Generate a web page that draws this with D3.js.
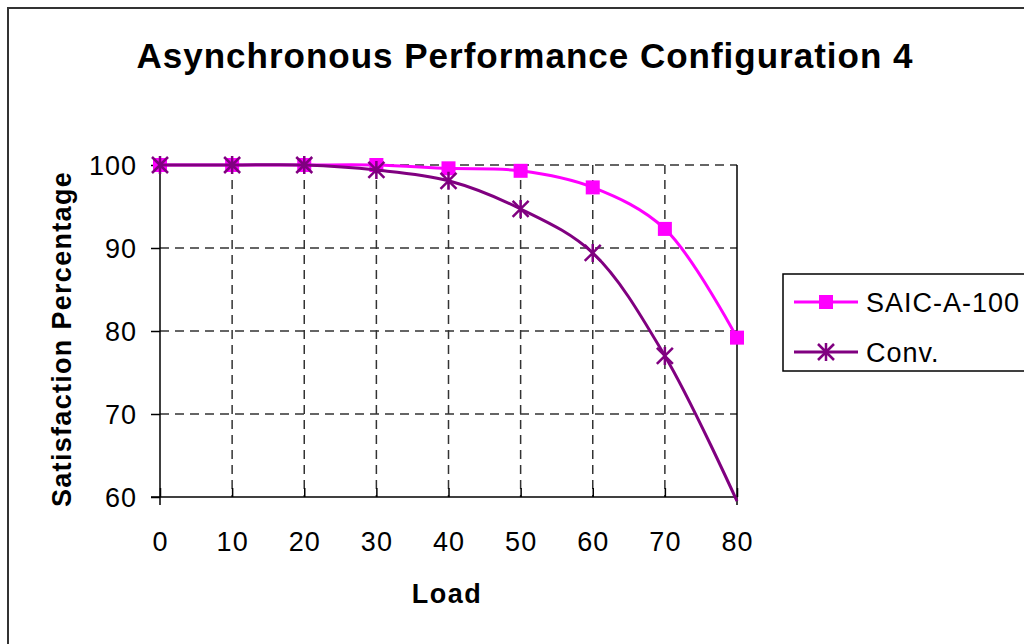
<!DOCTYPE html>
<html><head><meta charset="utf-8">
<script src="https://cdn.jsdelivr.net/npm/d3@7/dist/d3.min.js"></script>
<style>body{margin:0;background:#fff}svg{display:block;font-family:"Liberation Sans",Arial,sans-serif}</style>
</head><body><svg id="c" width="1024" height="644"></svg>
<script>
const loads = [0, 10, 20, 30, 40, 50, 60, 70, 80];
const saic = [100, 100, 100, 100, 99.6, 99.3, 97.3, 92.3, 79.2];
const conv = [100, 100, 100, 99.4, 98.1, 94.7, 89.4, 77.0, 59.5];
const xTicks = [0, 10, 20, 30, 40, 50, 60, 70, 80];
const yTicks = [60, 70, 80, 90, 100];
const seriesNames = ["SAIC-A-100", "Conv."];

const svg = d3.select("#c");
const L = 160, R = 737, T = 165, B = 497;
const x = d3.scaleLinear().domain([0, 80]).range([L, R]);
const y = d3.scaleLinear().domain([60, 100]).range([B, T]);

// outer border
svg.append("rect").attr("x", 8).attr("y", 8).attr("width", 1100).attr("height", 700)
  .attr("fill", "none").attr("stroke", "#333").attr("stroke-width", 2);

// title
svg.append("text").attr("x", 525).attr("y", 68).attr("text-anchor", "middle")
  .attr("font-size", 35).attr("font-weight", "bold").attr("letter-spacing", 1)
  .text("Asynchronous Performance Configuration 4");

// gridlines
const grid = svg.append("g").attr("stroke", "#333").attr("stroke-width", 1.5).attr("stroke-dasharray", "9,6");
yTicks.filter(v => v > 60).forEach(v => grid.append("line").attr("x1", L).attr("x2", R).attr("y1", y(v)).attr("y2", y(v)));
xTicks.filter(v => v > 0 && v < 80).forEach(v => grid.append("line").attr("x1", x(v)).attr("x2", x(v)).attr("y1", T).attr("y2", B));

// right border
svg.append("line").attr("x1", R).attr("x2", R).attr("y1", T).attr("y2", B + 8).attr("stroke", "#000").attr("stroke-width", 1.5);

// axes
const yAxis = d3.axisLeft(y).tickValues(yTicks).tickSize(9).tickPadding(14).tickFormat(d3.format("d"));
const gy = svg.append("g").attr("transform", `translate(${L},0)`).call(yAxis);
gy.select(".domain").attr("d", `M0,${T}V${B + 8}`).attr("stroke", "#000").attr("stroke-width", 1.5);
gy.selectAll(".tick line").attr("stroke", "#000").attr("stroke-width", 1.5);
gy.selectAll(".tick text").attr("font-size", 27).attr("letter-spacing", 1).attr("fill", "#000")
  .attr("font-family", "Liberation Sans, Arial, sans-serif").attr("dy", "0.36em");

const xAxis = d3.axisBottom(x).tickValues(xTicks).tickSize(-9).tickPadding(0).tickFormat(d3.format("d"));
const gx = svg.append("g").attr("transform", `translate(0,${B})`).call(xAxis);
gx.select(".domain").attr("d", `M${L - 9},0H${R}`).attr("stroke", "#000").attr("stroke-width", 1.5);
gx.selectAll(".tick line").attr("stroke", "#000").attr("stroke-width", 1.5);
gx.selectAll(".tick text").attr("font-size", 27).attr("letter-spacing", 1).attr("fill", "#000")
  .attr("font-family", "Liberation Sans, Arial, sans-serif").attr("y", 54).attr("dy", 0);

// axis titles
svg.append("text").attr("transform", "translate(71,339) rotate(-90)").attr("text-anchor", "middle")
  .attr("font-size", 27).attr("font-weight", "bold").attr("letter-spacing", 1.3).text("Satisfaction Percentage");
svg.append("text").attr("x", 447).attr("y", 603).attr("text-anchor", "middle")
  .attr("font-size", 27).attr("font-weight", "bold").attr("letter-spacing", 1.5).text("Load");

// clip
svg.append("clipPath").attr("id", "pc").append("rect").attr("x", L - 10).attr("y", T - 10).attr("width", R - L + 20).attr("height", B - T + 12);

const line = d3.line().x((d, i) => x(loads[i])).y(d => y(d)).curve(d3.curveCatmullRom.alpha(0.5));

function square(g, cx, cy, color) {
  g.append("rect").attr("x", cx - 7).attr("y", cy - 7).attr("width", 14).attr("height", 14).attr("fill", color);
}
function star(g, cx, cy, color) {
  const s = 8;
  const p = `M${cx - s},${cy - s}L${cx + s},${cy + s}M${cx - s},${cy + s}L${cx + s},${cy - s}M${cx},${cy - s - 1}L${cx},${cy + s + 1}`;
  g.append("path").attr("d", p).attr("stroke", color).attr("stroke-width", 2.5).attr("fill", "none");
}

const cS = "#FF00FF", cC = "#800080";
svg.append("path").datum(saic).attr("d", line).attr("fill", "none").attr("stroke", cS).attr("stroke-width", 3);
const mS = svg.append("g").attr("clip-path", "url(#pc)");
saic.forEach((v, i) => square(mS, x(loads[i]), y(v), cS));
svg.append("path").datum(conv).attr("d", line).attr("fill", "none").attr("stroke", cC).attr("stroke-width", 3);
const mC = svg.append("g").attr("clip-path", "url(#pc)");
conv.forEach((v, i) => { if (v >= 60) star(mC, x(loads[i]), y(v), cC); });

// legend
const lg = svg.append("g");
lg.append("rect").attr("x", 783).attr("y", 274).attr("width", 300).attr("height", 97)
  .attr("fill", "#fff").attr("stroke", "#000").attr("stroke-width", 1.5);
const rows = [{n: seriesNames[0], c: cS, y: 302, m: square}, {n: seriesNames[1], c: cC, y: 352, m: star}];
rows.forEach(r => {
  lg.append("line").attr("x1", 794).attr("x2", 858).attr("y1", r.y).attr("y2", r.y).attr("stroke", r.c).attr("stroke-width", 3);
  r.m(lg, 826, r.y, r.c);
  lg.append("text").attr("x", 866).attr("y", r.y + 10).attr("font-size", 27).attr("letter-spacing", 1).text(r.n);
});
</script></body></html>
